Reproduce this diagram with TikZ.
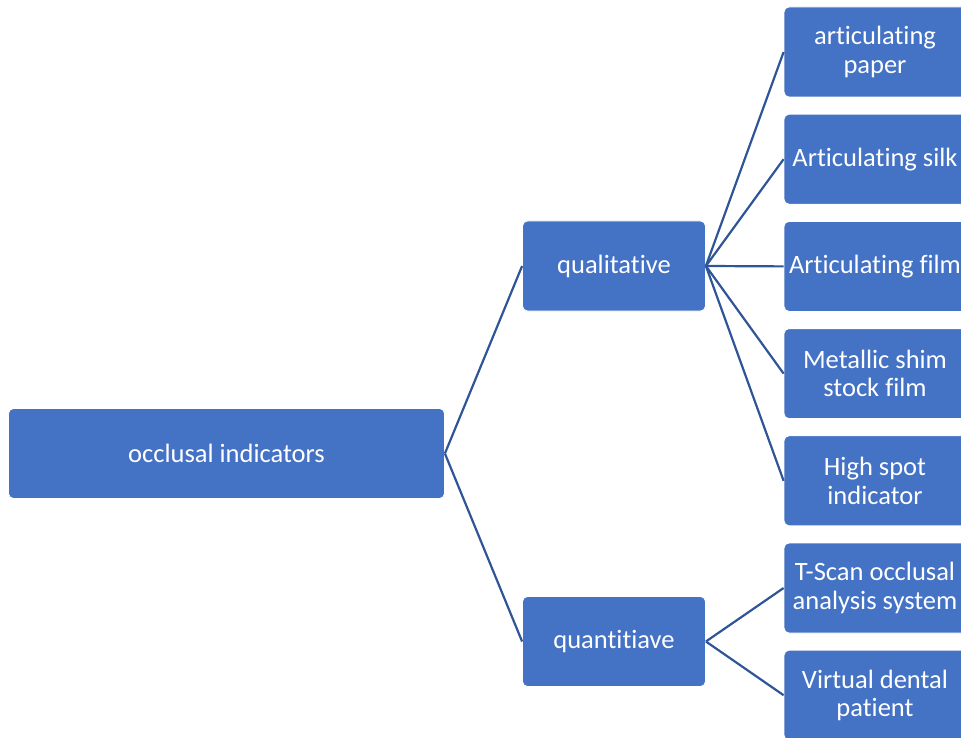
\documentclass[tikz,border=0pt]{standalone}
\usepackage{fontspec}
\setmainfont{Carlito}[Ligatures=NoCommon]
\definecolor{boxblue}{HTML}{4472C4}
\definecolor{lineblue}{HTML}{2F5597}
\begin{document}
\begin{tikzpicture}[x=1pt,y=-1pt,
  box/.style={fill=boxblue,draw=white,line width=0.8pt,rounded corners=5pt,
    text=white,align=center,inner sep=0pt,minimum height=90pt,
    font=\fontsize{26.5}{28.5}\selectfont},
  leafbox/.style={box,minimum width=182pt},
  midbox/.style={box,minimum width=183pt},
  conn/.style={draw=lineblue,line width=2.2pt}]
\useasboundingbox (0,0) rectangle (961,738);
\node[box,minimum width=436pt] (root) at (226.5,453.5) {occlusal indicators};
\node[midbox] (qual) at (614,266) {qualitative};
\node[midbox] (quan) at (614,641.5) {quantitiave};
\node[leafbox] (l1) at (875,52) {articulating\\paper};
\node[leafbox] (l2) at (875,159.2) {Articulating silk};
\node[leafbox] (l3) at (875,266.4) {Articulating film};
\node[leafbox] (l4) at (875,373.6) {Metallic shim\\stock film};
\node[leafbox] (l5) at (875,480.8) {High spot\\indicator};
\node[leafbox] (l6) at (875,588) {T-Scan occlusal\\analysis system};
\node[leafbox] (l7) at (875,695.2) {Virtual dental\\patient};
\draw[conn] (root.east) -- (qual.west);
\draw[conn] (root.east) -- (quan.west);
\foreach \n in {l1,l2,l3,l4,l5} \draw[conn] (qual.east) -- (\n.west);
\foreach \n in {l6,l7} \draw[conn] (quan.east) -- (\n.west);
\end{tikzpicture}
\end{document}
